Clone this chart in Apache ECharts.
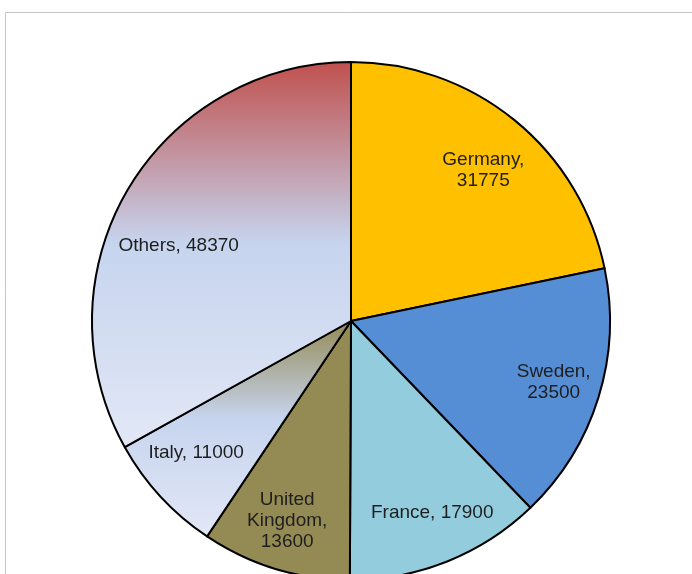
<!DOCTYPE html>
<html>
<head>
<meta charset="utf-8">
<script src="https://cdn.jsdelivr.net/npm/echarts@6/dist/echarts.min.js"></script>
<style>
html,body{margin:0;padding:0;background:#fff;}
#chart{width:692px;height:574px;}
</style>
</head>
<body>
<div id="chart"></div>
<script>
const categories = ['Germany', 'Sweden', 'France', 'United Kingdom', 'Italy', 'Others'];
const values = [31775, 23500, 17900, 13600, 11000, 48370];
const labelTexts = ['Germany,\n31775', 'Sweden,\n23500', 'France, 17900', 'United\nKingdom,\n13600', 'Italy, 11000', 'Others, 48370'];

function grad(stops) {
  return { type: 'linear', x: 0, y: 0, x2: 0, y2: 1,
    colorStops: stops.map(s => ({ offset: s[0], color: s[1] })) };
}
const fills = [
  '#FFC000',
  '#558ED5',
  '#93CDDD',
  '#948A54',
  grad([[0, '#948A54'], [0.45, '#C6D4EE'], [1, '#E2E8F6']]),
  grad([[0, '#C0504D'], [0.47, '#C6D4EE'], [1, '#E2E8F6']])
];
// small label nudges (pixels) to match the reference placement
const labelNudge = [[1, 11], [4, 0], [4, -1], [-3, 1], [-2, -9], [7, 30]];

const chart = echarts.init(document.getElementById('chart'), null, { renderer: 'canvas' });
const center = [351, 321];
chart.setOption({
  animation: false,
  backgroundColor: '#ffffff',
  graphic: [{
    type: 'rect', silent: true,
    shape: { x: 5.5, y: 12.5, width: 720, height: 600 },
    style: { fill: 'none', stroke: '#c4c4c4', lineWidth: 1 }
  }],
  series: [
    {
      type: 'pie', center: center, radius: [0, 259], startAngle: 90, clockwise: true,
      silent: true, label: { show: false }, labelLine: { show: false },
      itemStyle: { borderColor: '#000', borderWidth: 2 },
      data: categories.map((c, i) => ({ name: c, value: values[i], itemStyle: { color: fills[i] } }))
    },
    {
      type: 'pie', center: center, radius: [0, 410], startAngle: 90, clockwise: true,
      silent: true, labelLine: { show: false },
      itemStyle: { color: 'rgba(0,0,0,0)', borderWidth: 0 },
      label: {
        show: true, position: 'inside', color: '#1e1e1e',
        fontFamily: 'Liberation Sans, Arial, sans-serif', fontSize: 19, lineHeight: 21,
        align: 'center'
      },
      labelLayout: function (params) {
        const n = labelNudge[params.dataIndex] || [0, 0];
        return { dx: n[0], dy: n[1] };
      },
      data: categories.map((c, i) => ({ name: c, value: values[i], label: { formatter: labelTexts[i] } }))
    }
  ]
});
</script>
</body>
</html>
